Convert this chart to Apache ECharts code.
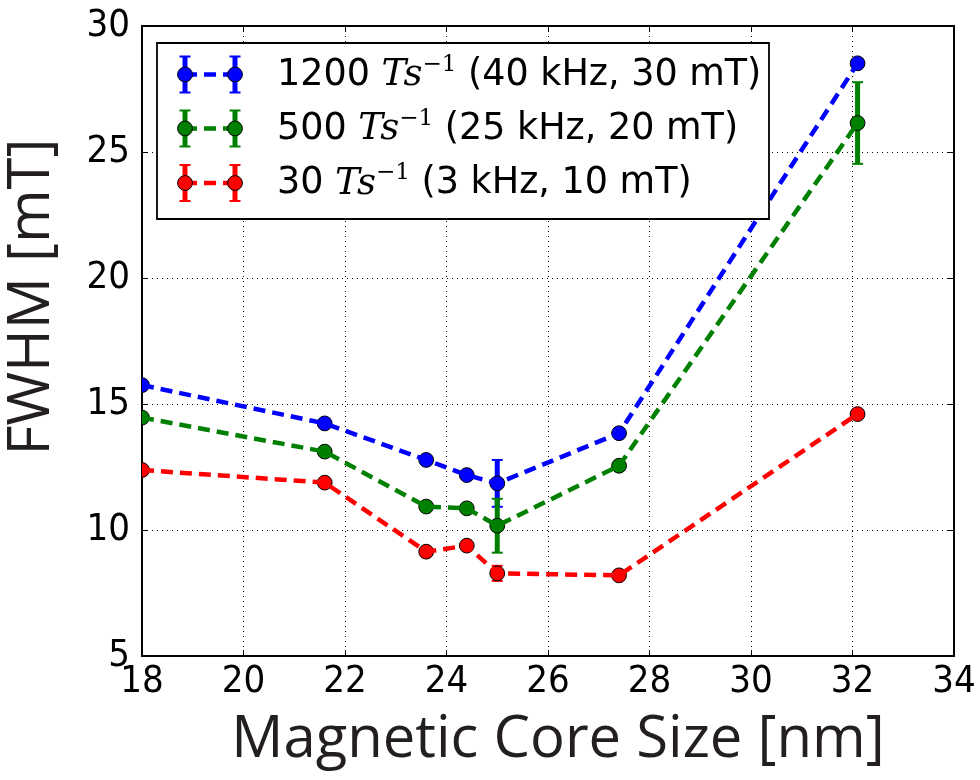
<!DOCTYPE html>
<html>
<head>
<meta charset="utf-8">
<script src="https://cdn.jsdelivr.net/npm/echarts@6/dist/echarts.min.js"></script>
<style>
  html, body { margin: 0; padding: 0; background: #fff; }
  #chart { width: 980px; height: 780px; }
</style>
</head>
<body>
<div id="chart"></div>
<script>
// Core sizes (nm)
const coreSize = [18.0, 21.6, 23.6, 24.4, 25.0, 27.4, 32.1];

// FWHM (mT) for each drive condition
const fwhm1200 = [15.75, 14.23, 12.78, 12.18, 11.85, 13.84, 28.52];
const fwhm500  = [14.46, 13.11, 10.93, 10.86, 10.17, 12.55, 26.15];
const fwhm30   = [12.38, 11.88, 9.14, 9.38, 8.28, 8.20, 14.60];

// Error bar half-widths (mT)
const err1200 = [0, 0, 0, 0, 0.93, 0, 0];
const err500  = [0, 0, 0, 0, 1.07, 0, 1.62];
const err30   = [0, 0, 0, 0, 0.30, 0, 0];

// Legend entries
const legendRate  = ['1200', '500', '30'];
const legendExtra = [' (40 kHz, 30 mT)', ' (25 kHz, 20 mT)', ' (3 kHz, 10 mT)'];

// Axis ranges and ticks
const xMin = 18, xMax = 34, xStep = 2;
const yMin = 5, yMax = 30, yStep = 5;

const colors = ['#0000ff', '#008000', '#ff0000'];
const valueSets = [fwhm1200, fwhm500, fwhm30];
const errSets = [err1200, err500, err30];

const GRID = { left: 142, right: 26, top: 26, bottom: 124 };
const tickFont = '"DejaVu Sans Condensed", "DejaVu Sans", sans-serif';
const titleFont = '"Open Sans", "Noto Sans", sans-serif';

function pairs(xs, ys, es) {
  return xs.map((x, i) => [x, ys[i], es[i]]);
}

const series = [];
valueSets.forEach((vals, k) => {
  const color = colors[k];
  const data = pairs(coreSize, vals, errSets[k]);
  series.push({
    type: 'line',
    data: data.map(d => [d[0], d[1]]),
    symbol: 'none',
    clip: true,
    lineStyle: { color: color, width: 4.5, type: [12, 7] },
    silent: true,
    animation: false
  });
  series.push({
    type: 'custom',
    data: data,
    clip: true,
    encode: { x: 0, y: 1 },
    animation: false,
    silent: true,
    renderItem: function (params, api) {
      const x = api.value(0), y = api.value(1), e = api.value(2);
      const c = api.coord([x, y]);
      const children = [];
      if (e > 0) {
        const top = api.coord([x, y + e]);
        const bot = api.coord([x, y - e]);
        children.push({ type: 'line', shape: { x1: c[0], y1: top[1], x2: c[0], y2: bot[1] },
          style: { stroke: color, lineWidth: 5 } });
        children.push({ type: 'line', shape: { x1: c[0] - 5.5, y1: top[1], x2: c[0] + 5.5, y2: top[1] },
          style: { stroke: color, lineWidth: 2 } });
        children.push({ type: 'line', shape: { x1: c[0] - 5.5, y1: bot[1], x2: c[0] + 5.5, y2: bot[1] },
          style: { stroke: color, lineWidth: 2 } });
      }
      children.push({ type: 'circle', shape: { cx: c[0], cy: c[1], r: 7.4 },
        style: { fill: color, stroke: '#000', lineWidth: 1 } });
      return { type: 'group', children: children };
    }
  });
});

// Legend box drawn as graphics (marker pair with error bars, dashed link, label)
const legendGraphics = [];
const LX = 157, LY = 43, LW = 612, LH = 176;
legendGraphics.push({
  type: 'rect', shape: { x: LX, y: LY, width: LW, height: LH },
  style: { fill: '#fff', stroke: '#000', lineWidth: 1.8 }, z: 100
});
const rowY = [74.5, 128.5, 183];
legendRate.forEach((rate, k) => {
  const color = colors[k];
  const cy = rowY[k];
  const mx = [185, 235];
  legendGraphics.push({
    type: 'line', shape: { x1: mx[0], y1: cy, x2: mx[1], y2: cy },
    style: { stroke: color, lineWidth: 4.5, lineDash: [12, 7] }, z: 101
  });
  mx.forEach(x => {
    legendGraphics.push({ type: 'line', shape: { x1: x, y1: cy - 18, x2: x, y2: cy + 18 },
      style: { stroke: color, lineWidth: 5 }, z: 101 });
    legendGraphics.push({ type: 'line', shape: { x1: x - 5.5, y1: cy - 18, x2: x + 5.5, y2: cy - 18 },
      style: { stroke: color, lineWidth: 2 }, z: 101 });
    legendGraphics.push({ type: 'line', shape: { x1: x - 5.5, y1: cy + 18, x2: x + 5.5, y2: cy + 18 },
      style: { stroke: color, lineWidth: 2 }, z: 101 });
    legendGraphics.push({ type: 'circle', shape: { cx: x, cy: cy, r: 7.4 },
      style: { fill: color, stroke: '#000', lineWidth: 1 }, z: 102 });
  });
  legendGraphics.push({
    type: 'text', x: 277, y: cy + 1, z: 102,
    style: {
      text: '{n|' + rate + ' }{m|Ts}{s|\u22121}{n|' + legendExtra[k] + '}',
      textVerticalAlign: 'middle',
      rich: {
        n: { fontFamily: '"DejaVu Sans", sans-serif', fontSize: 36.5, fill: '#000', lineHeight: 44 },
        m: { fontFamily: '"DejaVu Serif", "Liberation Serif", serif', fontStyle: 'italic', fontSize: 37, fill: '#000', lineHeight: 44 },
        s: { fontFamily: '"DejaVu Serif", "Liberation Serif", serif', fontSize: 23, fill: '#000', lineHeight: 30, verticalAlign: 'top' }
      }
    }
  });
});

// Axis titles
legendGraphics.push({
  type: 'text', x: 558, y: 740,
  style: { text: 'Magnetic Core Size [nm]', font: '58px ' + titleFont, fill: '#231f20',
    textAlign: 'center', textVerticalAlign: 'middle' }
});
legendGraphics.push({
  type: 'text', x: 32, y: 297, rotation: Math.PI / 2,
  style: { text: 'FWHM [mT]', font: '58px ' + titleFont, fill: '#231f20',
    textAlign: 'center', textVerticalAlign: 'middle' }
});

const axisLineStyle = { show: true, lineStyle: { color: '#000', width: 2 } };
const dotted = { show: true, lineStyle: { color: '#000', width: 1, type: [1, 4] } };

const option = {
  backgroundColor: '#fff',
  animation: false,
  grid: Object.assign({ containLabel: false }, GRID),
  xAxis: [{
    type: 'value', min: xMin, max: xMax, interval: xStep, position: 'bottom',
    axisLine: axisLineStyle,
    axisTick: { show: true, inside: true, length: 6, lineStyle: { color: '#000', width: 1 } },
    axisLabel: { show: true, margin: 7, color: '#000', fontSize: 38, fontFamily: tickFont },
    splitLine: dotted
  }, {
    type: 'value', min: xMin, max: xMax, interval: xStep, position: 'top',
    axisLine: axisLineStyle,
    axisTick: { show: true, inside: true, length: 6, lineStyle: { color: '#000', width: 1 } },
    axisLabel: { show: false }, splitLine: { show: false }
  }],
  yAxis: [{
    type: 'value', min: yMin, max: yMax, interval: yStep, position: 'left',
    axisLine: axisLineStyle,
    axisTick: { show: true, inside: true, length: 6, lineStyle: { color: '#000', width: 1 } },
    axisLabel: { show: true, margin: 12, color: '#000', fontSize: 38, fontFamily: tickFont },
    splitLine: dotted
  }, {
    type: 'value', min: yMin, max: yMax, interval: yStep, position: 'right',
    axisLine: axisLineStyle,
    axisTick: { show: true, inside: true, length: 6, lineStyle: { color: '#000', width: 1 } },
    axisLabel: { show: false }, splitLine: { show: false }
  }],
  series: series,
  graphic: legendGraphics
};

const chart = echarts.init(document.getElementById('chart'), null, { renderer: 'canvas' });
chart.setOption(option);
</script>
</body>
</html>
